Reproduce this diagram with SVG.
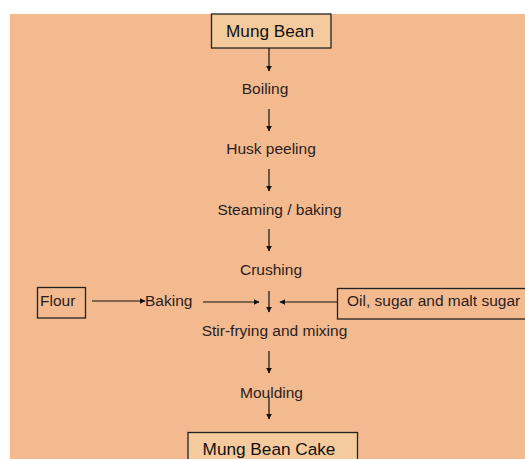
<svg xmlns="http://www.w3.org/2000/svg" width="525" height="459" viewBox="0 0 525 459">
<defs>
<style>
.t{font-family:"Liberation Sans",Arial,sans-serif;font-size:15.5px;fill:#2b1d1d}
.tb{font-family:"Liberation Sans",Arial,sans-serif;font-size:17.2px;fill:#111}
.box{fill:#f5ca9c;stroke:#222;stroke-width:1.3}
.box2{fill:none;stroke:#222;stroke-width:1.3}
.c line{stroke:#111;stroke-width:1.2;marker-end:url(#ah)}
</style>
<marker id="ah" viewBox="0 0 10 10" refX="9" refY="5" markerWidth="6" markerHeight="6" markerUnits="userSpaceOnUse" orient="auto"><path d="M0,0 L10,5 L0,10 z" fill="#111"/></marker>
</defs>
<rect x="0" y="0" width="525" height="459" fill="#fff"/>
<rect x="10" y="14" width="515" height="445" fill="#f3ba8f"/>
<g id="mungbean"><rect class="box" x="211.5" y="14" width="119.5" height="34"/><text class="tb" x="270" y="37" text-anchor="middle">Mung Bean</text></g>
<g id="boiling"><text class="t" x="265" y="94" text-anchor="middle">Boiling</text></g>
<g id="husk"><text class="t" x="271" y="154" text-anchor="middle">Husk peeling</text></g>
<g id="steaming"><text class="t" x="279.5" y="215" text-anchor="middle">Steaming / baking</text></g>
<g id="crushing"><text class="t" x="271" y="275" text-anchor="middle">Crushing</text></g>
<g id="flour"><rect class="box2" x="37.5" y="287.5" width="48" height="30.5"/><text class="t" x="40" y="306">Flour</text></g>
<g id="baking"><text class="t" x="145" y="306">Baking</text></g>
<g id="oil"><rect class="box2" x="337.5" y="288.5" width="190" height="30.5"/><text class="t" x="347" y="306">Oil, sugar and malt sugar</text></g>
<g id="stir"><text class="t" x="274.5" y="336" text-anchor="middle">Stir-frying and mixing</text></g>
<g id="moulding"><text class="t" x="271.5" y="398" text-anchor="middle">Moulding</text></g>
<g id="cake"><rect class="box" x="188" y="432.5" width="169.5" height="30"/><text class="tb" x="269" y="455" text-anchor="middle">Mung Bean Cake</text></g>
<g class="c" id="connectors">
<line x1="269" y1="48" x2="269" y2="71"/>
<line x1="269" y1="109" x2="269" y2="131"/>
<line x1="269" y1="169" x2="269" y2="191"/>
<line x1="269" y1="229" x2="269" y2="251"/>
<line x1="92" y1="301" x2="145" y2="301"/>
<line x1="203" y1="302" x2="259" y2="302"/>
<line x1="269" y1="291" x2="269" y2="312"/>
<line x1="337" y1="302" x2="280" y2="302"/>
<line x1="269" y1="351" x2="269" y2="373"/>
<line x1="269" y1="397" x2="269" y2="419"/>
</g>
</svg>
